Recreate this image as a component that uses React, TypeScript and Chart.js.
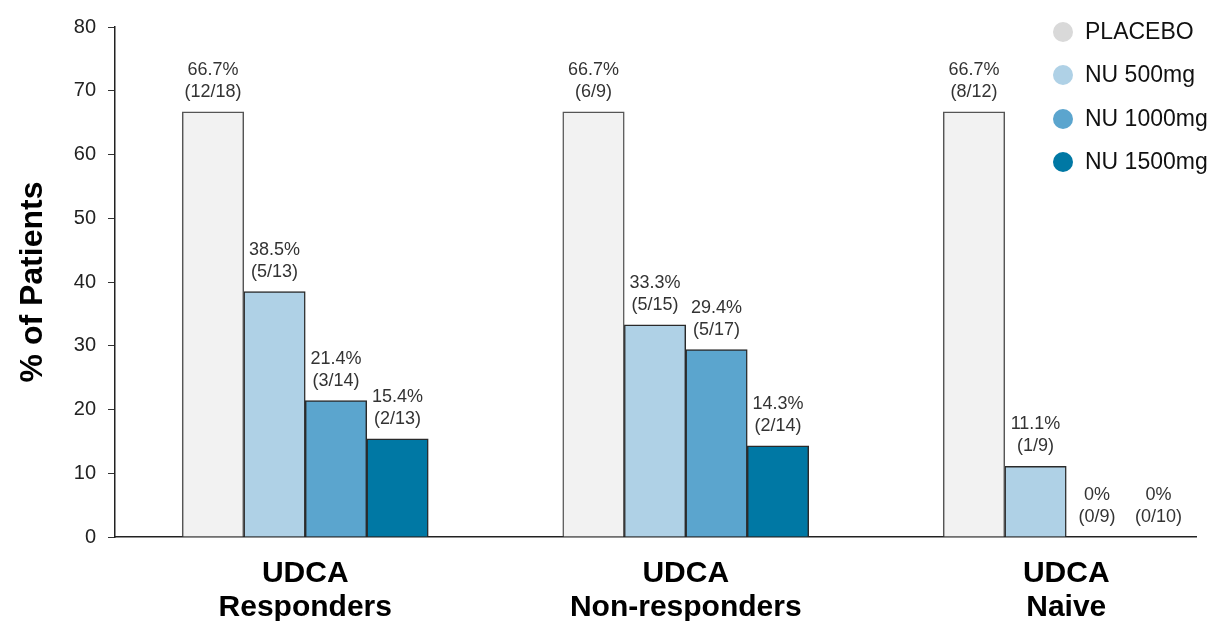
import React, { useEffect, useRef } from "react";
import { Chart, registerables } from "chart.js";

Chart.register(...registerables);

const categories: string[][] = [
  ["UDCA", "Responders"],
  ["UDCA", "Non-responders"],
  ["UDCA", "Naive"],
];
const seriesNames = ["PLACEBO", "NU 500mg", "NU 1000mg", "NU 1500mg"];
const placebo = [66.7, 66.7, 66.7];
const nu500 = [38.5, 33.3, 11.1];
const nu1000 = [21.4, 29.4, 0];
const nu1500 = [15.4, 14.3, 0];
const placeboN = ["(12/18)", "(6/9)", "(8/12)"];
const nu500N = ["(5/13)", "(5/15)", "(1/9)"];
const nu1000N = ["(3/14)", "(5/17)", "(0/9)"];
const nu1500N = ["(2/13)", "(2/14)", "(0/10)"];
const yTicks = [0, 10, 20, 30, 40, 50, 60, 70, 80];

const barColors = ["#F2F2F2", "#AFD1E6", "#5BA5CE", "#0078A4"];
const legendColors = ["#D9D9D9", "#AFD1E6", "#5BA5CE", "#0078A4"];
const FONT = "'Liberation Sans', Arial, sans-serif";

const valueSets = [placebo, nu500, nu1000, nu1500];
const fractionSets = [placeboN, nu500N, nu1000N, nu1500N];

const fmtPct = (v: number) => (v === 0 ? "0%" : v.toFixed(1) + "%");

const labelPlugin = {
  id: "barLabels",
  afterDatasetsDraw(chart: any) {
    const ctx = chart.ctx;
    ctx.save();
    ctx.font = `18px ${FONT}`;
    ctx.fillStyle = "#333333";
    ctx.textAlign = "center";
    ctx.textBaseline = "middle";
    chart.data.datasets.forEach((ds: any, di: number) => {
      const meta = chart.getDatasetMeta(di);
      meta.data.forEach((el: any, i: number) => {
        const v = valueSets[di][i];
        const frac = fractionSets[di][i];
        const x = el.x;
        const y = el.y;
        ctx.fillText(frac, x, y - 20);
        ctx.fillText(fmtPct(v), x, y - 42);
      });
    });
    ctx.restore();
  },
};

const legendPlugin = {
  id: "customLegend",
  afterDraw(chart: any) {
    const ctx = chart.ctx;
    ctx.save();
    ctx.font = `23px ${FONT}`;
    ctx.textAlign = "left";
    ctx.textBaseline = "middle";
    const rows = [32, 75, 119, 162];
    seriesNames.forEach((name, i) => {
      ctx.beginPath();
      ctx.fillStyle = legendColors[i];
      ctx.arc(1063, rows[i], 10, 0, Math.PI * 2);
      ctx.fill();
      ctx.fillStyle = "#111111";
      ctx.fillText(name, 1085, rows[i] + 1);
    });
    ctx.restore();
  },
};

export default function App() {
  const ref = useRef<HTMLCanvasElement | null>(null);

  useEffect(() => {
    document.body.style.margin = "0";
    if (!ref.current) return;
    const chart = new Chart(ref.current, {
      type: "bar",
      data: {
        datasets: valueSets.map((vals, di) => ({
          label: seriesNames[di],
          data: vals.map((v, i) => ({ x: i, y: v })),
          backgroundColor: barColors[di],
          borderColor: di === 0 ? "#555555" : "#2a2a2a",
          borderWidth: 1.5,
          barThickness: 61.5,
        })),
      },
      options: {
        animation: false,
        responsive: false,
        devicePixelRatio: 1,
        layout: { padding: { top: 27, right: 15, left: 0, bottom: 0 } },
        plugins: {
          legend: { display: false },
          tooltip: { enabled: false },
        },
        scales: {
          x: {
            type: "linear",
            offset: false,
            bounds: "data",
            min: -0.5,
            max: 2.341,
            afterBuildTicks: (scale: any) => {
              scale.ticks = categories.map((_, i) => ({ value: i }));
            },
            afterFit: (scale: any) => {
              scale.height = 84;
            },
            grid: { display: false, offset: false },
            border: { display: true, color: "#222222", width: 1.5 },
            ticks: {
              autoSkip: false,
              maxRotation: 0,
              padding: 12,
              color: "#000000",
              font: { family: FONT, size: 30, weight: "bold", lineHeight: 1.13 },
              callback: (value: any) => categories[Math.round(value)] as any,
            },
          },
          y: {
            min: 0,
            max: 80,
            afterBuildTicks: (scale: any) => {
              scale.ticks = yTicks.map((v) => ({ value: v }));
            },
            afterFit: (scale: any) => {
              scale.width = 115;
            },
            grid: {
              drawOnChartArea: false,
              drawTicks: true,
              tickLength: 7,
              color: "#333333",
            },
            border: { display: true, color: "#222222", width: 1.5 },
            ticks: {
              padding: 12,
              color: "#222222",
              font: { family: FONT, size: 20 },
            },
            title: {
              display: true,
              text: "% of Patients",
              color: "#000000",
              font: { family: FONT, size: 32, weight: "bold" },
              padding: { top: 14, bottom: 0 },
            },
          },
        },
      } as any,
      plugins: [labelPlugin, legendPlugin],
    });
    return () => chart.destroy();
  }, []);

  return (
    <div style={{ width: 1211, height: 621 }}>
      <canvas ref={ref} width={1211} height={621} style={{ display: "block" }} />
    </div>
  );
}
